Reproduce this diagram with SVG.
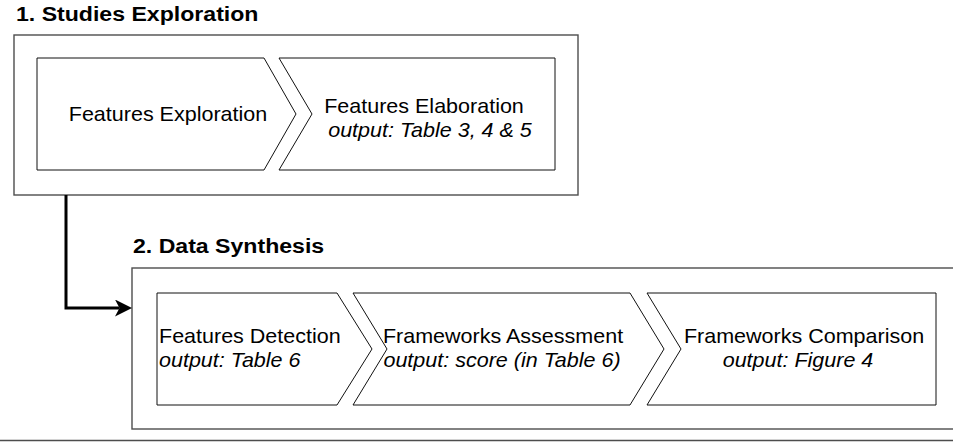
<svg xmlns="http://www.w3.org/2000/svg" width="953" height="442" viewBox="0 0 953 442">
<defs>
<style>
.frame{fill:#fff;stroke:#4d4d4d;stroke-width:1.4}
.step{fill:#fff;stroke:#111;stroke-width:1}
.t{font-family:"Liberation Sans",Arial,sans-serif;font-size:20.5px;fill:#000}
.i{font-style:italic}
.h{font-family:"Liberation Sans",Arial,sans-serif;font-size:21px;font-weight:bold;fill:#000}
.m{text-anchor:middle}
.conn{fill:none;stroke:#000;stroke-width:3}
</style>
<marker id="arr" viewBox="0 0 17 17" refX="4.5" refY="8.5" markerWidth="17" markerHeight="17" markerUnits="userSpaceOnUse" orient="auto">
<path d="M0,0 L17,8.5 L0,17 L4.5,8.5 Z" fill="#000"/>
</marker>
</defs>
<rect width="953" height="442" fill="#fff"/>
<line x1="0" y1="440.5" x2="953" y2="440.5" stroke="#4d4d4d" stroke-width="1.4"/>

<g id="group-studies-exploration">
<rect class="frame" x="14" y="35" width="564" height="160"/>
<text class="h" transform="translate(16 21) scale(1.1 1)">1. Studies Exploration</text>
</g>
<g id="node-features-exploration">
<polygon class="step" points="37,58 264,58 296,114 264,170 37,170"/>
<text class="t m" transform="translate(168 121) scale(1.05 1)">Features Exploration</text>
</g>
<g id="node-features-elaboration">
<polygon class="step" points="279,58 555,58 555,170 279,170 312,114"/>
<text class="t m" transform="translate(424 113) scale(1.05 1)">Features Elaboration</text>
<text class="t i m" transform="translate(430 137) scale(1.05 1)">output: Table 3, 4 &amp; 5</text>
</g>

<g id="group-data-synthesis">
<rect class="frame" x="132" y="268" width="840" height="161"/>
<text class="h" transform="translate(133 253) scale(1.1 1)">2. Data Synthesis</text>
</g>
<g id="node-features-detection">
<polygon class="step" points="157,293 337,293 372,349 337,405 157,405"/>
<text class="t" transform="translate(159 343) scale(1.05 1)">Features Detection</text>
<text class="t i" transform="translate(159 367) scale(1.05 1)">output: Table 6</text>
</g>
<g id="node-frameworks-assessment">
<polygon class="step" points="353,293 630,293 664,349 630,405 353,405 387,349"/>
<text class="t m" transform="translate(503 343) scale(1.05 1)">Frameworks Assessment</text>
<text class="t i m" transform="translate(502 367) scale(1.05 1)">output: score (in Table 6)</text>
</g>
<g id="node-frameworks-comparison">
<polygon class="step" points="647,293 936,293 936,405 647,405 681,349"/>
<text class="t m" transform="translate(804 343) scale(1.05 1)">Frameworks Comparison</text>
<text class="t i m" transform="translate(798 367) scale(1.05 1)">output: Figure 4</text>
</g>

<g id="connectors">
<path class="conn" d="M66,195 V308 H119.5" marker-end="url(#arr)"/>
</g>
</svg>
